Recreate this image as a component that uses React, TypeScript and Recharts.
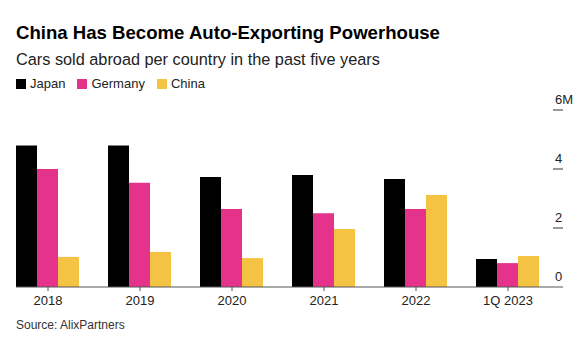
import { BarChart, Bar, XAxis, YAxis } from "recharts";

const categories = ["2018", "2019", "2020", "2021", "2022", "1Q 2023"];
const japan = [4.8, 4.8, 3.73, 3.8, 3.66, 0.95];
const germany = [4.0, 3.53, 2.64, 2.5, 2.64, 0.81];
const china = [1.02, 1.19, 0.98, 1.97, 3.12, 1.05];
const yTicks = [0, 2, 4, 6];

const COLORS = { japan: "#000000", germany: "#e5338b", china: "#f4c343" };
const FONT = "'Liberation Sans', Arial, Helvetica, sans-serif";

const data = categories.map((name, i) => ({
    name,
    Japan: japan[i],
    Germany: germany[i],
    China: china[i],
}));

const YTick = (props: any) => {
    const { x, y, payload } = props;
    const v = payload.value;
    return (
        <g>
            {v !== 0 && <line x1={x - 10} x2={x} y1={y} y2={y} stroke="#333" strokeWidth={1} />}
            <text x={x - 8} y={y - 6} fontSize={13} fill="#222" fontFamily={FONT}>
                {v === 6 ? "6M" : v}
            </text>
        </g>
    );
};

const legend = [
    { label: "Japan", color: COLORS.japan },
    { label: "Germany", color: COLORS.germany },
    { label: "China", color: COLORS.china },
];

export default function App() {
    return (
        <div style={{ position: "absolute", left: 0, top: 0, width: 580, height: 353, background: "#fff", fontFamily: FONT }}>
            <div style={{ position: "absolute", left: 16, top: 22, fontSize: 18.6, fontWeight: 700, color: "#000", whiteSpace: "nowrap" }}>
                China Has Become Auto-Exporting Powerhouse
            </div>
            <div style={{ position: "absolute", left: 16, top: 50, fontSize: 16.3, color: "#222", whiteSpace: "nowrap" }}>
                Cars sold abroad per country in the past five years
            </div>
            <div style={{ position: "absolute", left: 16, top: 76, fontSize: 13, color: "#222", display: "flex", gap: 12 }}>
                {legend.map((l) => (
                    <div key={l.label} style={{ display: "flex", alignItems: "center" }}>
                        <span style={{ display: "inline-block", width: 10, height: 10, background: l.color, marginRight: 4 }} />
                        {l.label}
                    </div>
                ))}
            </div>
            <div style={{ position: "absolute", left: 16, top: 318, fontSize: 12, color: "#333" }}>Source: AlixPartners</div>
            <div style={{ position: "absolute", left: 0, top: 0 }}>
                <BarChart
                    width={580}
                    height={353}
                    data={data}
                    margin={{ top: 110, right: 0, bottom: 36, left: 16 }}
                    barCategoryGap={14}
                    barGap={0}
                >
                    <XAxis
                        dataKey="name"
                        padding={{ left: -14, right: 9 }}
                        height={30}
                        axisLine={{ stroke: "#555" }}
                        tickLine={{ stroke: "#555" }}
                        tickSize={4}
                        tickMargin={5}
                        interval={0}
                        tick={{ fontSize: 13, fill: "#222", fontFamily: FONT }}
                    />
                    <YAxis
                        orientation="right"
                        width={17}
                        domain={[0, 6]}
                        ticks={yTicks}
                        axisLine={false}
                        tickLine={false}
                        tickSize={0}
                        tickMargin={0}
                        tick={<YTick />}
                    />
                    <Bar dataKey="Japan" fill={COLORS.japan} isAnimationActive={false} />
                    <Bar dataKey="Germany" fill={COLORS.germany} isAnimationActive={false} />
                    <Bar dataKey="China" fill={COLORS.china} isAnimationActive={false} />
                </BarChart>
            </div>
        </div>
    );
}
